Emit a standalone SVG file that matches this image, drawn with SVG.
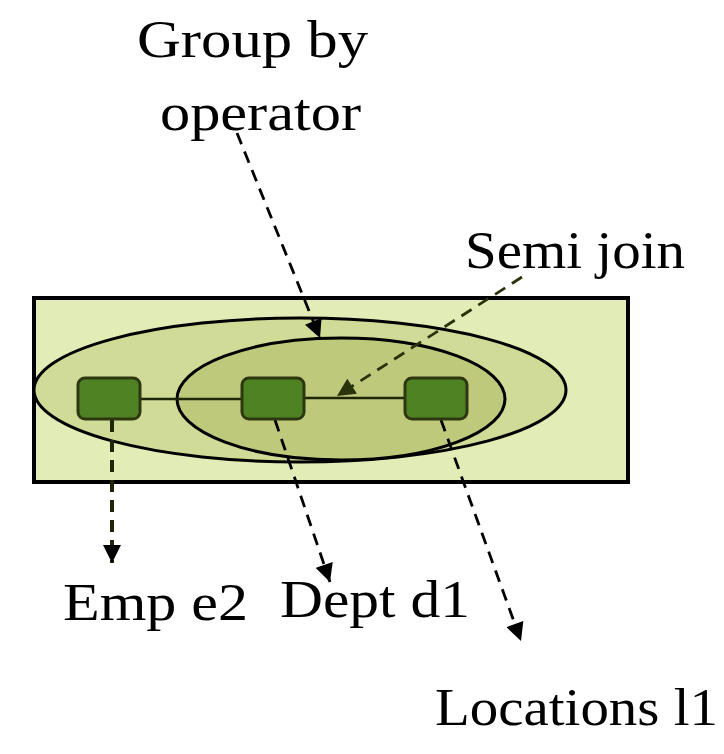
<svg xmlns="http://www.w3.org/2000/svg" width="724" height="754" viewBox="0 0 724 754">
<defs>
<marker id="ahBig" viewBox="0 0 10 10" refX="10" refY="5" markerWidth="20" markerHeight="18" markerUnits="userSpaceOnUse" orient="auto"><path d="M0,0 L10,5 L0,10 z" fill="#000"/></marker>
<marker id="ahDark" viewBox="0 0 10 10" refX="10" refY="5" markerWidth="20" markerHeight="18" markerUnits="userSpaceOnUse" orient="auto"><path d="M0,0 L10,5 L0,10 z" fill="#2a330c"/></marker>
</defs>
<style>
.lbl{font-family:"Liberation Serif","Times New Roman",serif;font-size:53px;fill:#000}
.node{fill:#4e8223;stroke:#2e3810;stroke-width:3}
.dash{fill:none;stroke:#000;stroke-width:2.8;stroke-dasharray:12 8}
</style>
<rect width="724" height="754" fill="#fff"/>
<g id="frame">
<rect x="34" y="298" width="594" height="184" fill="#e2ecb6" stroke="#000" stroke-width="4"/>
</g>
<g id="groupby-ellipse">
<ellipse cx="300" cy="390" rx="266" ry="72" fill="#cfdb97" stroke="#000" stroke-width="3"/>
</g>
<g id="semijoin-ellipse">
<ellipse cx="341" cy="399" rx="164" ry="61" fill="#bfc97c" stroke="#000" stroke-width="3"/>
</g>
<g id="connectors">
<line x1="140" y1="399" x2="242" y2="399" stroke="#1e2608" stroke-width="2.5"/>
<line x1="304" y1="398" x2="405" y2="398" stroke="#1e2608" stroke-width="2.5"/>
<line x1="237" y1="133" x2="320" y2="338" class="dash" marker-end="url(#ahBig)"/>
<line x1="522" y1="277" x2="337" y2="396" class="dash" style="stroke:#2a330c" marker-end="url(#ahDark)"/>
<line x1="112" y1="420" x2="112" y2="563" class="dash" style="stroke-width:4;stroke:#1e2608" marker-end="url(#ahBig)"/>
<line x1="275" y1="420" x2="330" y2="582" class="dash" marker-end="url(#ahBig)"/>
<line x1="441" y1="420" x2="521" y2="641" class="dash" marker-end="url(#ahBig)"/>
</g>
<g id="emp">
<rect x="78" y="378" width="62" height="41" rx="7" class="node"/>
</g>
<g id="dept">
<rect x="242" y="378" width="62" height="41" rx="7" class="node"/>
</g>
<g id="locations">
<rect x="405" y="378" width="62" height="41" rx="7" class="node"/>
</g>
<g id="labels">
<text class="lbl" x="137" y="57" textLength="231" lengthAdjust="spacingAndGlyphs">Group by</text>
<text class="lbl" x="160" y="130" textLength="201" lengthAdjust="spacingAndGlyphs">operator</text>
<text class="lbl" x="465" y="268" textLength="220" lengthAdjust="spacingAndGlyphs">Semi join</text>
<text class="lbl" x="63" y="620" textLength="185" lengthAdjust="spacingAndGlyphs">Emp e2</text>
<text class="lbl" x="280" y="617" textLength="190" lengthAdjust="spacingAndGlyphs">Dept d1</text>
<text class="lbl" x="435" y="725" textLength="283" lengthAdjust="spacingAndGlyphs">Locations l1</text>
</g>
</svg>
